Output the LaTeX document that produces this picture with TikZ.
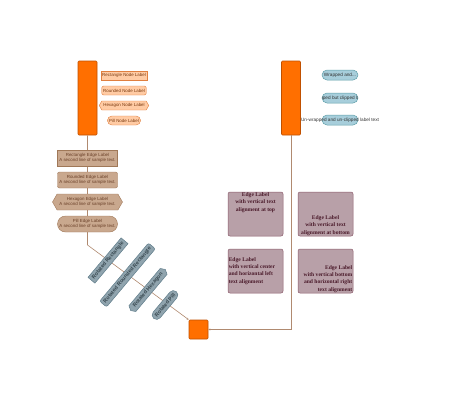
\documentclass[tikz,border=0pt]{standalone}
\usepackage{fontspec}
\setmainfont{Liberation Sans}
\newfontfamily\serifb{Liberation Serif}
\usetikzlibrary{shapes.misc,shapes.symbols,arrows.meta}
\definecolor{barfill}{HTML}{FF6F00}
\definecolor{bardraw}{HTML}{C05000}
\definecolor{nlfill}{HTML}{FFCBA4}
\definecolor{nldraw}{HTML}{E08040}
\definecolor{nltext}{HTML}{7A3A10}
\definecolor{elfill}{HTML}{C9A88E}
\definecolor{eldraw}{HTML}{A07858}
\definecolor{eltext}{HTML}{6A4028}
\definecolor{edgecol}{HTML}{B08A70}
\definecolor{rotfill}{HTML}{90A4AE}
\definecolor{rotdraw}{HTML}{607D8B}
\definecolor{rottext}{HTML}{37474F}
\definecolor{bluefill}{HTML}{A7CEDB}
\definecolor{bluedraw}{HTML}{5F9EA8}
\definecolor{mvfill}{HTML}{B8A0A8}
\definecolor{mvdraw}{HTML}{8B5A6A}
\definecolor{mvtext}{HTML}{4A1A2A}
\tikzset{
  x=1pt,y=1pt,
  bar/.style={draw=bardraw,fill=barfill,line width=0.6pt,rounded corners=1pt,minimum width=19pt,minimum height=74pt,inner sep=0pt},
  sq/.style={draw=bardraw,fill=barfill,line width=0.6pt,rounded corners=1pt,minimum width=19pt,minimum height=19pt,inner sep=0pt},
  edgeline/.style={draw=edgecol,line width=0.6pt,-{Stealth[length=2pt,width=2pt]}},
  smallfont/.style={font=\fontsize{4.4}{5.4}\selectfont},
  nl/.style={smallfont,draw=nldraw,fill=nlfill,text=nltext,line width=0.4pt,inner xsep=1.5pt,inner ysep=1.2pt,minimum height=9pt},
  nlrect/.style={nl},
  nlround/.style={nl,rounded corners=2pt},
  nlhex/.style={nl,shape=signal,signal to=east and west,signal pointer angle=120},
  nlpill/.style={nl,rounded rectangle},
  el/.style={smallfont,draw=eldraw,fill=elfill,text=eltext,line width=0.4pt,align=center,inner xsep=1pt,inner ysep=1.5pt,minimum width=60pt,minimum height=16pt},
  elrect/.style={el},
  elround/.style={el,rounded corners=2pt},
  elhex/.style={el,shape=signal,signal to=east and west,signal pointer angle=120,minimum width=70pt},
  elpill/.style={el,rounded rectangle,minimum width=62pt},
  rl/.style={font=\fontsize{5.3}{6}\selectfont\bfseries,draw=rotdraw,fill=rotfill,text=rottext,line width=0.5pt,inner xsep=2.5pt,inner ysep=1.5pt,minimum height=9pt,rotate=50},
  bl/.style={font=\fontsize{4.7}{5.6}\selectfont,draw=bluedraw,fill=bluefill,text=black!80,line width=0.5pt,rounded rectangle,minimum width=36pt,minimum height=10pt,inner sep=0pt},
  bltext/.style={font=\fontsize{4.7}{5.6}\selectfont,text=black!80,inner sep=0pt},
  mv/.style={draw=mvdraw,fill=mvfill,line width=0.5pt,rounded corners=2pt,minimum width=55pt,minimum height=44pt,inner sep=0pt},
  mvt/.style={font=\serifb\bfseries\fontsize{5.6}{7.2}\selectfont,text=mvtext,inner sep=0.8pt}
}
\begin{document}
\begin{tikzpicture}
\useasboundingbox (0,0) rectangle (460,-400);
% main nodes
\node[bar] (A) at (87.5,-98) {};
\node[bar] (B) at (291,-98) {};
\node[sq] (C) at (198.5,-329.5) {};
% connectors
\coordinate (bendA) at (87.5,-245);
\coordinate (bendB) at (291,-329.5);
\draw[edgeline] (A.south) -- (bendA) -- (C.north west);
\draw[edgeline] (B.south) -- (bendB) -- (C.east);
% node labels (left)
\node[nlrect] (n1) at (124,-75.5) {Rectangle Node Label};
\node[nlround] (n2) at (124,-90.5) {Rounded Node Label};
\node[nlhex] (n3) at (124,-105.5) {Hexagon Node Label};
\node[nlpill] (n4) at (124,-120.5) {Pill Node Label};
% edge labels (left)
\node[elrect] (e1) at (87.5,-158) {Rectangle Edge Label\\A second line of sample text.};
\node[elround] (e2) at (87.5,-180) {Rounded Edge Label\\A second line of sample text.};
\node[elhex] (e3) at (87.5,-202) {Hexagon Edge Label\\A second line of sample text.};
\node[elpill] (e4) at (87.5,-224) {Pill Edge Label\\A second line of sample text.};
% rotated labels
\node[rl] (r1) at (108,-260.5) {Rotated Rectangle};
\node[rl,rounded corners=2pt] (r2) at (127.5,-275) {Rotated Rounded Rectangle};
\node[rl,shape=signal,signal to=east and west,signal pointer angle=120] (r3) at (148,-290) {Rotated Hexagon};
\node[rl,rounded rectangle] (r4) at (165,-305) {Rotated Pill};
% right labels
\node[bl] (b1) at (340,-75) {Wrapped and...};
\node[bl] (b2) at (340,-98) {};
\begin{scope}
  \clip (322.5,-93) rectangle (357.5,-103);
  \node[bltext] (b2t) at (340,-98) {Un-wrapped but clipped label text};
\end{scope}
\node[bl] (b3) at (340,-120) {};
\node[bltext] (b3t) at (340,-120) {Un-wrapped and un-clipped label text};
% mauve boxes
\node[mv] (m1) at (255.5,-214) {};
\node[mv] (m2) at (325.5,-214) {};
\node[mv] (m3) at (255.5,-271) {};
\node[mv] (m4) at (325.5,-271) {};
\node[mvt,anchor=north,align=center] (t1) at (m1.north) {Edge Label\\with vertical text\\alignment at top};
\node[mvt,anchor=south,align=center] (t2) at (m2.south) {Edge Label\\with vertical text\\alignment at bottom};
\node[mvt,anchor=west,align=left] (t3) at (m3.west) {Edge Label\\with vertical center\\and horizontal left\\text alignment};
\node[mvt,anchor=south east,align=right] (t4) at (m4.south east) {Edge Label\\with vertical bottom\\and horizontal right\\text alignment};
\end{tikzpicture}
\end{document}
